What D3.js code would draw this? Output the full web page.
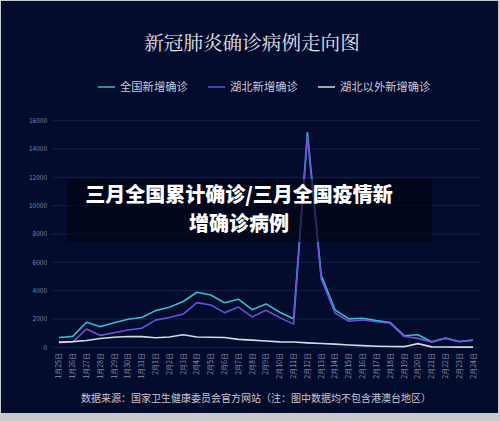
<!DOCTYPE html>
<html>
<head>
<meta charset="utf-8">
<script src="https://cdn.jsdelivr.net/npm/d3@7"></script>
<style>
  html, body { margin: 0; padding: 0; background: #c9cad0; }
  svg { display: block; }
  text { font-family: "Noto Sans CJK SC", "Noto Sans", sans-serif; }
</style>
</head>
<body>
<svg id="chart" width="500" height="421"></svg>
<script>
// dates (report days), 1/25 .. 2/24
const dates = ["1月25日","1月26日","1月27日","1月28日","1月29日","1月30日","1月31日",
  "2月1日","2月2日","2月3日","2月4日","2月5日","2月6日","2月7日","2月8日","2月9日",
  "2月10日","2月11日","2月12日","2月13日","2月14日","2月15日","2月16日","2月17日",
  "2月18日","2月19日","2月20日","2月21日","2月22日","2月23日","2月24日"];

const national = [688, 769, 1771, 1459, 1737, 1982, 2102, 2590, 2829, 3235, 3887, 3694,
  3143, 3399, 2656, 3062, 2478, 2015, 15152, 5090, 2641, 2009, 2048, 1886, 1749, 820,
  889, 397, 648, 409, 508];
const hubei = [323, 371, 1291, 840, 1032, 1220, 1347, 1921, 2103, 2345, 3156, 2987,
  2447, 2841, 2147, 2618, 2097, 1638, 14840, 4823, 2420, 1843, 1933, 1807, 1693, 775,
  631, 366, 630, 398, 499];
const outside = [365, 398, 480, 619, 705, 762, 755, 669, 726, 890, 731, 707, 696, 558,
  509, 444, 381, 377, 312, 267, 221, 166, 115, 79, 56, 45, 258, 31, 18, 11, 9];

const seriesNames = ["全国新增确诊", "湖北新增确诊", "湖北以外新增确诊"];
const seriesColors = ["#36bccd", "#6a52d8", "#d6d8e2"];
const yTicks = [0, 2000, 4000, 6000, 8000, 10000, 12000, 14000, 16000];
const bannerLines = ["三月全国累计确诊/三月全国疫情新", "增确诊病例"];

const svg = d3.select("#chart");

// dark card
svg.append("rect")
  .attr("x", 1).attr("y", 1)
  .attr("width", 497).attr("height", 412)
  .attr("fill", "#040c2d");

const x = d3.scalePoint().domain(dates).range([52, 480]).padding(0.5);
const y = d3.scaleLinear().domain([0, 16000]).range([347.3, 120.7]);

// grid + y labels
const yAxis = svg.append("g");
yAxis.selectAll("line").data(yTicks).join("line")
  .attr("x1", 52).attr("x2", 480)
  .attr("y1", d => y(d)).attr("y2", d => y(d))
  .attr("stroke", "#16204a").attr("stroke-width", 1);
yAxis.selectAll("text").data(yTicks).join("text")
  .attr("x", 47).attr("y", d => y(d))
  .attr("dy", "0.35em")
  .attr("text-anchor", "end")
  .attr("font-size", 6.5)
  .attr("fill", "#7c829c")
  .text(d => d);

// x labels, rotated
svg.append("g").selectAll("text").data(dates).join("text")
  .attr("transform", d => "translate(" + x(d) + ",353) rotate(-90)")
  .attr("text-anchor", "end")
  .attr("dy", "0.35em")
  .attr("font-size", 7)
  .attr("fill", "#8a90aa")
  .text(d => d);

// lines
const line = d3.line()
  .x((d, i) => x(dates[i]))
  .y(d => y(d));

[national, hubei, outside].forEach(function (vals, k) {
  svg.append("path")
    .datum(vals)
    .attr("d", line)
    .attr("fill", "none")
    .attr("stroke", seriesColors[k])
    .attr("stroke-width", 1.6)
    .attr("stroke-linejoin", "round");
});

// title
svg.append("text")
  .attr("x", 252).attr("y", 50)
  .attr("text-anchor", "middle")
  .attr("font-size", 19.6)
  .attr("fill", "#e2e3ea")
  .style("font-family", "'Noto Serif CJK SC', 'DejaVu Serif', serif")
  .text("新冠肺炎确诊病例走向图");

// legend
const legendX = [98, 208, 318];
const legend = svg.append("g");
seriesNames.forEach(function (name, k) {
  legend.append("line")
    .attr("x1", legendX[k]).attr("x2", legendX[k] + 17)
    .attr("y1", 87).attr("y2", 87)
    .attr("stroke", seriesColors[k]).attr("stroke-width", 1.5);
  legend.append("text")
    .attr("x", legendX[k] + 22).attr("y", 87)
    .attr("dy", "0.36em")
    .attr("font-size", 11.3)
    .attr("fill", "#c6c9d6")
    .text(name);
});

// footer
svg.append("text")
  .attr("x", 256).attr("y", 402)
  .attr("text-anchor", "middle")
  .attr("font-size", 10)
  .attr("fill", "#c4c7d2")
  .text("数据来源：国家卫生健康委员会官方网站（注：图中数据均不包含港澳台地区）");

// overlay banner
svg.append("rect")
  .attr("x", 67).attr("y", 179)
  .attr("width", 365).attr("height", 63)
  .attr("fill", "#01040f").attr("fill-opacity", 0.62);
svg.append("g").selectAll("text").data(bannerLines).join("text")
  .attr("x", 239)
  .attr("y", (d, i) => 202 + i * 29)
  .attr("text-anchor", "middle")
  .attr("font-size", 20)
  .attr("font-weight", 900)
  .attr("fill", "#ffffff")
  .text(d => d);
</script>
</body>
</html>
